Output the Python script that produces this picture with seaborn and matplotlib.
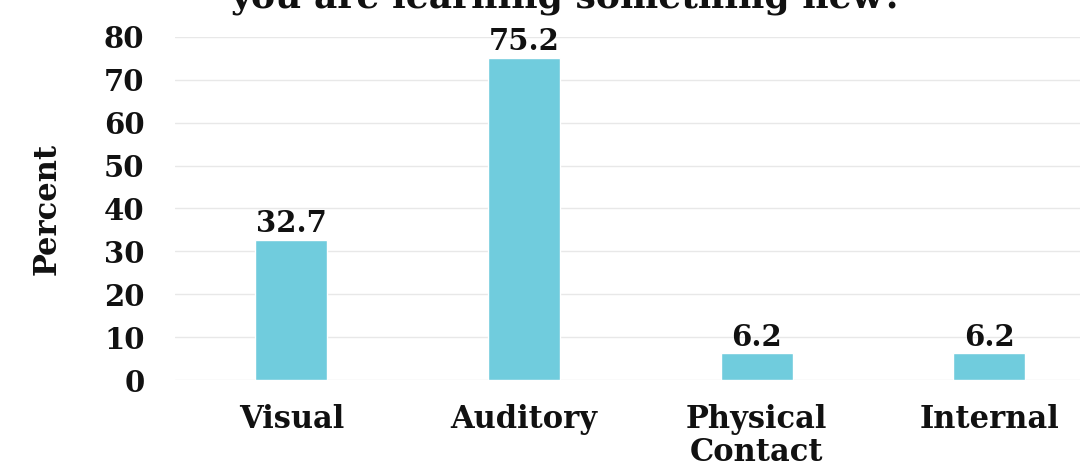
import matplotlib
matplotlib.use("Agg")
import matplotlib.pyplot as plt
import seaborn as sns
import pandas as pd

# values
categories = ["Visual", "Auditory", "Physical\nContact", "Internal"]
percent = [32.7, 75.2, 6.2, 6.2]
y_ticks = [0, 10, 20, 30, 40, 50, 60, 70, 80]
title_line = "you are learning something new?"

bar_color = "#70CCDD"
ink = "#111111"

sns.set_theme(style="white")
plt.rcParams["font.family"] = ["DejaVu Serif"]
plt.rcParams["font.weight"] = "bold"

df = pd.DataFrame({"category": categories, "percent": percent})

fig = plt.figure(figsize=(10.88, 4.73), dpi=100)
ax = fig.add_axes([175 / 1088, 93 / 473, (1080 - 175) / 1088, (380 - 37) / 473])

sns.barplot(data=df, x="category", y="percent", color=bar_color, width=0.31,
            saturation=1, ax=ax, zorder=3)

for i, v in enumerate(percent):
    ax.text(i, v + 0.4, f"{v}", ha="center", va="bottom",
            fontsize=21, fontweight="bold", color=ink)

ax.set_ylim(0, 80)
ax.set_xlim(-0.5, 3.39)
ax.set_yticks(y_ticks)
ax.set_yticklabels([str(t) for t in y_ticks], fontsize=21, fontweight="bold", color=ink)
ax.tick_params(axis="x", labelsize=22, pad=17, colors=ink, length=0)
ax.tick_params(axis="y", pad=22, length=0, colors=ink)
for lab in ax.get_xticklabels():
    lab.set_fontweight("bold")
    lab.set_linespacing(1.12)
ax.yaxis.grid(True, color="#E8E8E8", linewidth=1, zorder=0)
ax.xaxis.grid(False)
for side in ["top", "right", "left", "bottom"]:
    ax.spines[side].set_visible(False)
ax.set_xlabel("")
ax.set_ylabel("Percent", fontsize=22, fontweight="bold", labelpad=30, color=ink)

# title is cut off at the top of the picture, as in the reference
fig.text(567 / 1088, 1.005, title_line, ha="center", va="center",
         fontsize=26, fontweight="bold", color=ink)

fig.savefig("out.png", dpi=100)
